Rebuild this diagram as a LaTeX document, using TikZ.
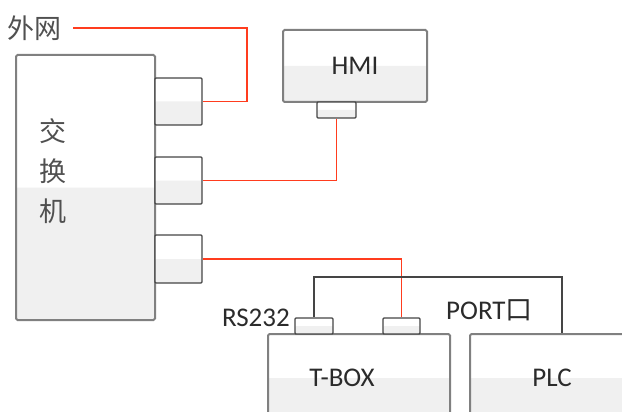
\documentclass[tikz,border=0pt]{standalone}
\usepackage{fontspec}
\setmainfont{Carlito}
\newfontfamily\cjk{Noto Sans CJK SC}
\usetikzlibrary{positioning}
\definecolor{boxgray}{HTML}{F0F0F0}
\definecolor{edge}{HTML}{808080}
\definecolor{portedge}{HTML}{454545}
\definecolor{wirered}{HTML}{FF3C1E}
\definecolor{ink}{HTML}{2B2B2B}
\definecolor{cjkink}{HTML}{505050}
\tikzset{
  half/.style={fill=white, path picture={\fill[boxgray] (path picture bounding box.west) rectangle (path picture bounding box.south east);}},
  devbox/.style={half, draw=edge, line width=2pt, rounded corners=1.5pt, inner sep=0pt, font=\fontsize{27}{30}\selectfont, text=ink},
  portbox/.style={half, draw=portedge, line width=1.3pt, rounded corners=1pt, inner sep=0pt},
  wire/.style={draw=wirered, line width=1.8pt},
  bus/.style={draw=portedge, line width=1.3pt},
  lbl/.style={inner sep=0pt, font=\fontsize{27}{30}\selectfont, text=ink}
}
\begin{document}
\begin{tikzpicture}[x=1pt, y=-1pt]
  \clip (0,0) rectangle (622,412);
  % switch and its ports
  \node[devbox, minimum width=139pt, minimum height=265pt] (switch) at (85.5,187.5) {};
  \node[lbl, align=center, text=cjkink, font=\cjk\fontsize{27}{40}\selectfont] (swtext) at (53,171) {交\\换\\机};
  \node[portbox, minimum width=47pt, minimum height=47pt] (p1) at (178.5,101.5) {};
  \node[portbox, minimum width=47pt, minimum height=47pt] (p2) at (178.5,180.5) {};
  \node[portbox, minimum width=47pt, minimum height=48pt] (p3) at (178.5,259) {};
  \node[lbl, text=cjkink, font=\cjk\fontsize{27}{30}\selectfont] (wan) at (35,28) {外网};
  % HMI
  \node[devbox, minimum width=144pt, minimum height=72pt] (hmi) at (355,66) {HMI};
  \node[portbox, minimum width=39pt, minimum height=16pt] (hmiport) at (336.5,110) {};
  % T-BOX and PLC
  \node[devbox, minimum width=182pt, minimum height=88pt,
        label={[lbl, xshift=-17pt]center:T-BOX}] (tbox) at (359,378) {};
  \node[portbox, minimum width=38pt, minimum height=16pt] (tport1) at (314,326) {};
  \node[portbox, minimum width=37pt, minimum height=16pt] (tport2) at (401.5,326) {};
  \node[devbox, minimum width=164pt, minimum height=88pt] (plc) at (552,378) {PLC};
  \node[lbl, anchor=east] (rs) at (290,318) {RS232};
  \node[lbl, anchor=west] (port) at (446,310) {PORT{\cjk 口}};
  % wires
  \coordinate (wanbend) at (247,28);
  \coordinate (busbend) at (562,277);
  \draw[wire, shorten <=11pt] (wan.east) -- (wanbend) |- (p1.east);
  \draw[wire] (hmiport.south) |- (p2.east);
  \draw[wire] (p3.east) -| (tport2.north);
  \draw[bus] (tport1.north) |- (busbend) -- (busbend |- plc.north);
\end{tikzpicture}
\end{document}
